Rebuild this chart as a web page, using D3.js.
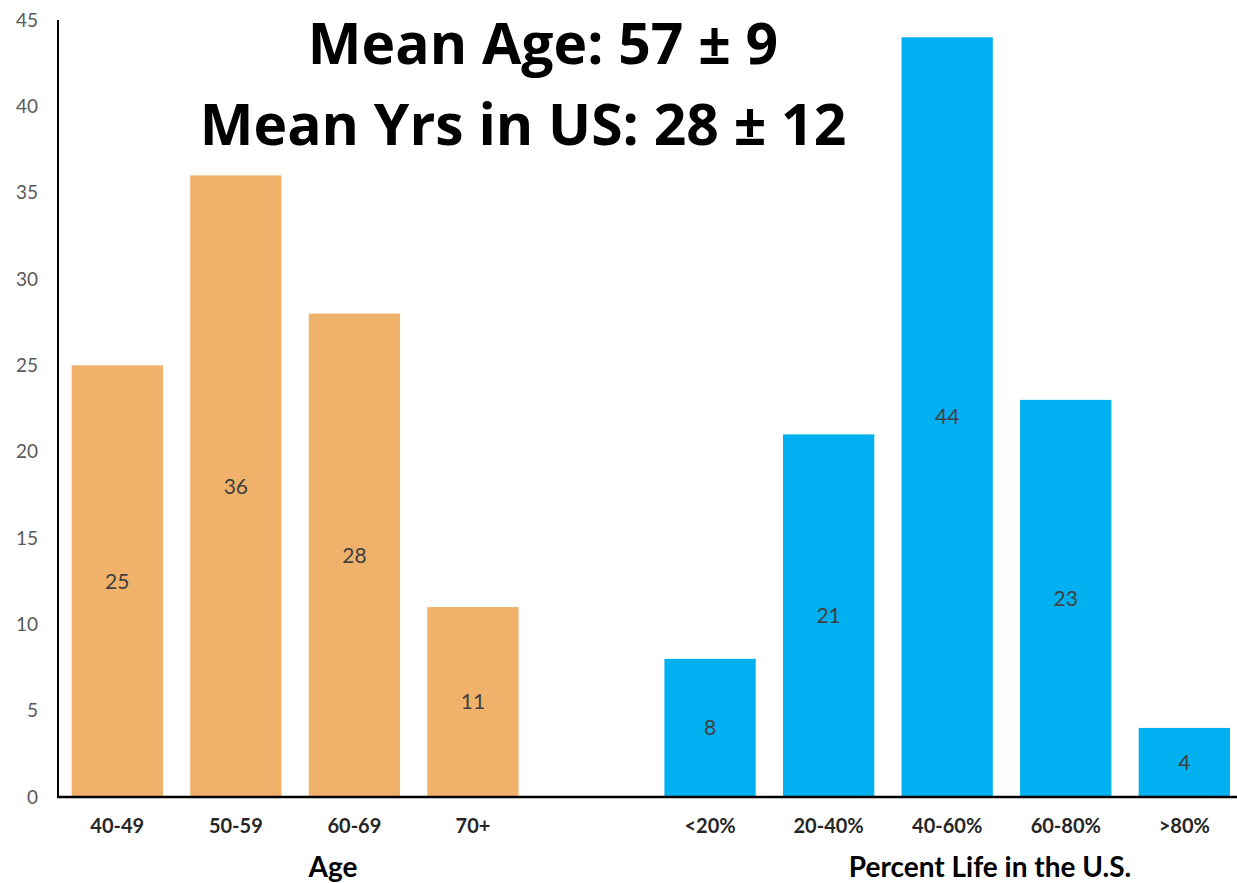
<!DOCTYPE html>
<html><head><meta charset="utf-8">
<script src="https://cdn.jsdelivr.net/npm/d3@7/dist/d3.min.js"></script>
<style>body{margin:0;background:#fff}</style>
</head><body>
<svg id="c" width="1237" height="883"></svg>
<script>
const ageCats = ["40-49","50-59","60-69","70+"];
const ageVals = [25,36,28,11];
const lifeCats = ["<20%","20-40%","40-60%","60-80%",">80%"];
const lifeVals = [8,21,44,23,4];
const yTicks = [0,5,10,15,20,25,30,35,40,45];
const titleLines = ["Mean Age: 57 \u00B1 9","Mean Yrs in US: 28 \u00B1 12"];
const axisTitles = ["Age","Percent Life in the U.S."];

const svg = d3.select("#c");
const x0 = 58, y0 = 797, yTop = 20;
const slots = [...ageCats, "", ...lifeCats];
const x = d3.scaleBand().domain(slots.map((d,i)=>i)).range([x0, x0+1185.6]).paddingInner(0.23).paddingOuter(0.115);
const y = d3.scaleLinear().domain([0,45]).range([y0, yTop]);

const data = [
  ...ageCats.map((c,i)=>({c, v:ageVals[i], idx:i, col:"#F0B26B"})),
  ...lifeCats.map((c,i)=>({c, v:lifeVals[i], idx:i+5, col:"#00B0F0"}))
];

svg.selectAll("rect.bar").data(data).join("rect")
  .attr("x", d=>x(d.idx)).attr("width", x.bandwidth())
  .attr("y", d=>y(d.v)).attr("height", d=>y0-y(d.v))
  .attr("fill", d=>d.col);

svg.selectAll("text.val").data(data).join("text")
  .attr("x", d=>x(d.idx)+x.bandwidth()/2)
  .attr("y", d=>(y(d.v)+y0)/2)
  .attr("dy","0.35em")
  .attr("text-anchor","middle")
  .attr("font-family","Lato, 'Open Sans', sans-serif")
  .attr("font-size",21).attr("fill","#404040")
  .text(d=>d.v);

// y axis
const yAxis = d3.axisLeft(y).tickValues(yTicks).tickSize(0).tickPadding(20);
const gy = svg.append("g").attr("transform",`translate(${x0},0)`).call(yAxis);
gy.select(".domain").attr("stroke","#000").attr("stroke-width",2).attr("d",`M0,${yTop}V${y0}`);
gy.selectAll("text").attr("font-family","Lato, 'Open Sans', sans-serif").attr("font-size",19).attr("fill","#595959");

// x axis
const xAxis = d3.axisBottom(x).tickSize(0).tickPadding(22).tickFormat(i=>slots[i]);
const gx = svg.append("g").attr("transform",`translate(0,${y0})`).call(xAxis);
gx.select(".domain").attr("stroke","#000").attr("stroke-width",2.5).attr("d",`M${x0-1},0H1237`);
gx.selectAll("text").attr("font-family","Lato, 'Open Sans', sans-serif").attr("font-weight","bold").attr("font-size",20).attr("fill","#262626");

// axis titles
svg.append("text").attr("x",333).attr("y",877).attr("text-anchor","middle")
  .attr("font-family","Lato, 'Open Sans', sans-serif").attr("font-weight","bold").attr("font-size",28).attr("fill","#000")
  .text(axisTitles[0]);
svg.append("text").attr("x",990).attr("y",877).attr("text-anchor","middle")
  .attr("font-family","Lato, 'Open Sans', sans-serif").attr("font-weight","bold").attr("font-size",28).attr("fill","#000")
  .text(axisTitles[1]);

// title
svg.append("text").attr("x",543).attr("y",64).attr("text-anchor","middle")
  .attr("font-family","'Open Sans', Inter, sans-serif").attr("font-weight","bold").attr("font-size",57).attr("fill","#000")
  .text(titleLines[0]);
svg.append("text").attr("x",523).attr("y",145).attr("text-anchor","middle")
  .attr("font-family","'Open Sans', Inter, sans-serif").attr("font-weight","bold").attr("font-size",57).attr("fill","#000")
  .text(titleLines[1]);
</script>
</body></html>
